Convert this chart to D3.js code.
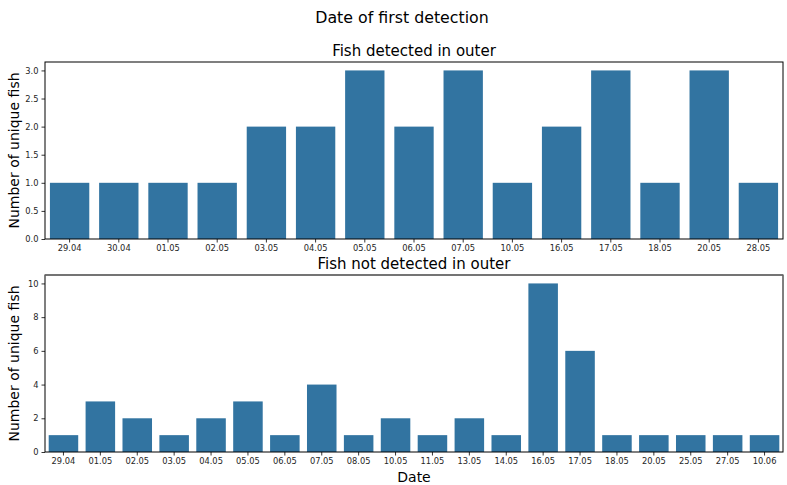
<!DOCTYPE html>
<html>
<head>
<meta charset="utf-8">
<script src="https://cdn.jsdelivr.net/npm/d3@7"></script>
<style>
  body { margin: 0; background: #fff; }
  svg { display: block; font-family: "DejaVu Sans", sans-serif; }
</style>
</head>
<body>
<svg id="chart" width="787" height="485"></svg>
<script>
// Fish detected in the outer area: date of first detection and count
const outerDates = ["29.04","30.04","01.05","02.05","03.05","04.05","05.05","06.05","07.05","10.05","16.05","17.05","18.05","20.05","28.05"];
const outerCounts = [1,1,1,1,2,2,3,2,3,1,2,3,1,3,1];
const outerTicks = [0,0.5,1,1.5,2,2.5,3];

// Fish never detected in the outer area
const notOuterDates = ["29.04","01.05","02.05","03.05","04.05","05.05","06.05","07.05","08.05","10.05","11.05","13.05","14.05","16.05","17.05","18.05","20.05","25.05","27.05","10.06"];
const notOuterCounts = [1,3,2,1,2,3,1,4,1,2,1,2,1,10,6,1,1,1,1,1];
const notOuterTicks = [0,2,4,6,8,10];

const barColor = "#3274a1";
const svg = d3.select("#chart");

svg.append("text")
  .attr("x", 402).attr("y", 23)
  .attr("text-anchor", "middle")
  .attr("font-size", 15.8)
  .text("Date of first detection");

function panel(cfg) {
  const { left, right, top, bottom, dates, counts, ticks, yMax, tickFmt, title, xLabel, topEdge } = cfg;
  const g = svg.append("g");
  const x = d3.scaleBand().domain(dates).range([left, right]).paddingInner(0.2).paddingOuter(0.1);
  const y = d3.scaleLinear().domain([0, yMax]).range([bottom, top]);

  g.selectAll("rect.bar")
    .data(dates.map((d, i) => ({ d, v: counts[i] })))
    .join("rect")
    .attr("class", "bar")
    .attr("x", p => x(p.d))
    .attr("width", x.bandwidth())
    .attr("y", p => y(p.v))
    .attr("height", p => y(0) - y(p.v))
    .attr("fill", barColor);

  const xAxis = g.append("g")
    .attr("transform", `translate(0,${bottom})`)
    .call(d3.axisBottom(x).tickSize(3.5).tickPadding(3));
  const yAxis = g.append("g")
    .attr("transform", `translate(${left},0)`)
    .call(d3.axisLeft(y).tickValues(ticks).tickFormat(tickFmt).tickSize(3.5).tickPadding(3));
  [xAxis, yAxis].forEach(a => {
    a.select(".domain").remove();
    a.selectAll("text").attr("font-size", 8.3).attr("fill", "#262626").attr("font-family", "DejaVu Sans, sans-serif");
    a.selectAll("line").attr("stroke", "#000").attr("stroke-width", 0.8);
  });

  // frame of the axes
  g.append("rect")
    .attr("x", left).attr("y", top)
    .attr("width", right - left).attr("height", bottom - top)
    .attr("fill", "none").attr("stroke", "#000").attr("stroke-width", 1);
  if (topEdge) {
    g.append("line")
      .attr("x1", left).attr("x2", right).attr("y1", top).attr("y2", top)
      .attr("stroke", topEdge).attr("stroke-width", 1.6);
  }

  g.append("text")
    .attr("x", (left + right) / 2).attr("y", top - 6)
    .attr("text-anchor", "middle")
    .attr("font-size", 15)
    .text(title);

  g.append("text")
    .attr("transform", `translate(19,${(top + bottom) / 2}) rotate(-90)`)
    .attr("text-anchor", "middle")
    .attr("font-size", 14)
    .text("Number of unique fish");

  if (xLabel) {
    g.append("text")
      .attr("x", (left + right) / 2).attr("y", bottom + 30)
      .attr("text-anchor", "middle")
      .attr("font-size", 14)
      .text(xLabel);
  }
}

panel({ left: 45, right: 783, top: 62, bottom: 239, dates: outerDates, counts: outerCounts,
        ticks: outerTicks, yMax: 3.15, tickFmt: d3.format(".1f"), title: "Fish detected in outer" });
panel({ left: 45, right: 783, top: 275, bottom: 452, dates: notOuterDates, counts: notOuterCounts,
        ticks: notOuterTicks, yMax: 10.5, tickFmt: d3.format("d"), title: "Fish not detected in outer", xLabel: "Date", topEdge: "#707070" });
</script>
</body>
</html>
